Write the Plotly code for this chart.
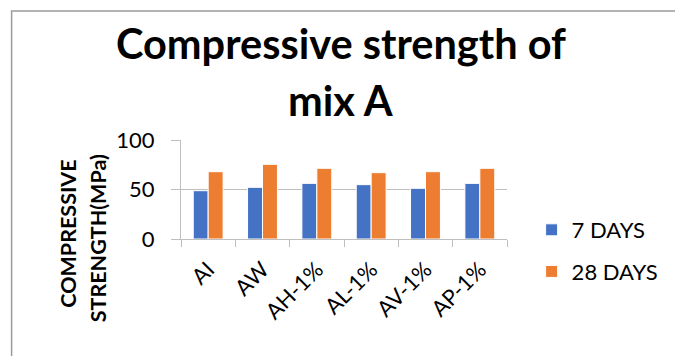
import plotly.graph_objects as go

# Compressive strength of mix A at 7 and 28 days (MPa)
mixes = ["AI", "AW", "AH-1%", "AL-1%", "AV-1%", "AP-1%"]
days_7 = [48.8, 52.2, 56.2, 54.9, 51.2, 56.2]
days_28 = [68.0, 75.4, 71.4, 67.0, 68.0, 71.4]
y_ticks = [0, 50, 100]
title_lines = ["Compressive strength of", "mix A"]

FONT = "Lato, Calibri, sans-serif"
GRID = "#bfbfbf"

# plot area in pixels (used for positioning annotations and frame lines)
W, H = 675, 356
L, R, T, B = 181, 163, 140, 117
pw, ph = W - L - R, H - T - B


def px_x(x):
    return (x - L) / pw


def px_y(y):
    return (H - B - y) / ph


fig = go.Figure()
fig.add_trace(go.Bar(
    x=mixes, y=days_7, name="7 DAYS", legendgroup="a",
    marker=dict(color="#4472C4", line=dict(color="white", width=1)),
))
fig.add_trace(go.Bar(
    x=mixes, y=days_28, name="28 DAYS", legendgroup="b",
    marker=dict(color="#ED7D31", line=dict(color="white", width=1)),
))

fig.update_layout(
    width=W, height=H,
    margin=dict(l=L, r=R, t=T, b=B, pad=0),
    paper_bgcolor="white", plot_bgcolor="white",
    font=dict(family=FONT, color="#000000", size=22),
    barmode="group", bargap=0.45, bargroupgap=0.0,
    xaxis=dict(
        type="category", tickangle=-45, tickson="boundaries",
        ticks="outside", ticklen=7, tickcolor=GRID,
        showline=True, linecolor=GRID, linewidth=1,
        showgrid=False, tickfont=dict(size=22, family=FONT),
        ticklabelstandoff=8,
    ),
    yaxis=dict(
        range=[0, 100], tickvals=y_ticks,
        ticks="outside", ticklen=9, tickcolor=GRID,
        showline=True, linecolor=GRID, linewidth=1,
        showgrid=True, gridcolor=GRID, gridwidth=1,
        zeroline=False, tickfont=dict(size=22, family=FONT),
        ticklabelstandoff=12,
    ),
    legend=dict(
        x=px_x(537), xanchor="left", y=px_y(251), yanchor="middle",
        font=dict(size=22, family=FONT), tracegroupgap=10,
        bgcolor="rgba(0,0,0,0)",
    ),
    showlegend=True,
)

# chart title, one annotation per line
for text, yc in zip(title_lines, [43, 100]):
    fig.add_annotation(
        text=f"<b>{text}</b>", showarrow=False,
        xref="paper", yref="paper", x=px_x(343), y=px_y(yc),
        xanchor="center", yanchor="middle",
        font=dict(size=41.5, family=FONT, color="#000000"),
    )

# two-line vertical axis title
fig.add_annotation(
    text="<b>COMPRESSIVE</b>", textangle=-90, showarrow=False,
    xref="paper", yref="paper", x=px_x(66), y=px_y(234),
    xanchor="center", yanchor="middle",
    font=dict(size=21.5, family=FONT, color="#000000"),
)
fig.add_annotation(
    text="<b>STRENGTH(MPa)</b>", textangle=-90, showarrow=False,
    xref="paper", yref="paper", x=px_x(97), y=px_y(238),
    xanchor="center", yanchor="middle",
    font=dict(size=21.5, family=FONT, color="#000000"),
)

# chart frame; its right and bottom edges fall outside the page
fig.add_shape(type="rect", xref="paper", yref="paper",
              x0=px_x(9), x1=px_x(W + 30), y0=px_y(11), y1=px_y(H + 30),
              line=dict(color="#9a9a9a", width=1.5), fillcolor="rgba(0,0,0,0)",
              layer="below")

fig.write_html("out.html", config={"displayModeBar": False})
